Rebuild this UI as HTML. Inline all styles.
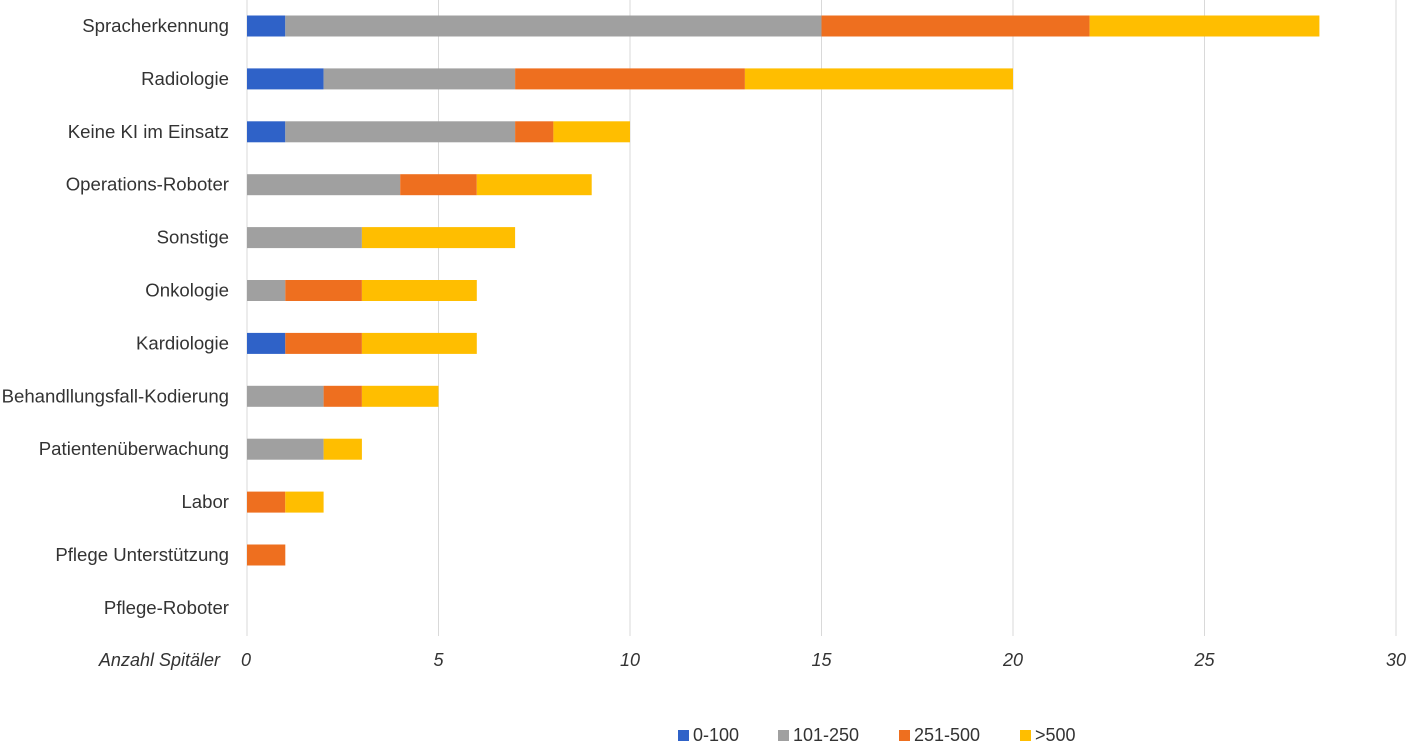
<!DOCTYPE html>
<html><head><meta charset="utf-8"><style>
body{margin:0;background:#fff;font-family:"Liberation Sans",sans-serif}
svg text{font-family:"Liberation Sans",sans-serif;fill:#333}
</style></head><body>
<svg id="chart" width="1406" height="741" xmlns="http://www.w3.org/2000/svg"></svg>
<script>
const categories=["Spracherkennung","Radiologie","Keine KI im Einsatz","Operations-Roboter","Sonstige","Onkologie","Kardiologie","Behandllungsfall-Kodierung","Patientenüberwachung","Labor","Pflege Unterstützung","Pflege-Roboter"];
const seriesNames=["0-100","101-250","251-500",">500"];
const s0=[1,2,1,0,0,0,1,0,0,0,0,0];
const s1=[14,5,6,4,3,1,0,2,2,0,0,0];
const s2=[7,6,1,2,0,2,2,1,0,1,1,0];
const s3=[6,7,2,3,4,3,3,2,1,1,0,0];
const ticks=[0,5,10,15,20,25,30];
const colors=["#2F62C8","#A0A0A0","#EE6F1F","#FFBE00"];
const svg=document.getElementById('chart');const NS="http://www.w3.org/2000/svg";
const x0=247,x1=1396,xmax=30;const X=v=>x0+(x1-x0)*v/xmax;
const Y=i=>26+i*52.9;const bh=21;
function el(t,a,txt){const e=document.createElementNS(NS,t);for(const k in a)e.setAttribute(k,a[k]);if(txt!==undefined)e.textContent=txt;svg.appendChild(e);return e;}
ticks.forEach(t=>{
 const g=el('line',{x1:X(t),x2:X(t),y1:0,y2:636,stroke:'#D9D9D9','stroke-width':1});
 
 
 const l=el('text',{x:X(t)-(t===0?6:0),y:666,'font-size':18,'font-style':'italic','text-anchor':t===0?'start':'middle'},t);
 
 
});
const at=el('text',{x:220,y:666,'font-size':18,'font-style':'italic','text-anchor':'end'},'Anzahl Spitäler');


const series=[s0,s1,s2,s3];
categories.forEach((c,i)=>{
 const t=el('text',{x:229,y:Y(i)+6,'font-size':18.6,'text-anchor':'end'},c);
 
 
 let acc=0;
 series.forEach((s,k)=>{
  if(s[i]>0){
   const r=el('rect',{x:X(acc),y:Y(i)-bh/2,width:X(acc+s[i])-X(acc),height:bh,fill:colors[k]});
   
   
  }
  acc+=s[i];
 });
});
const lx=[678,778,899,1020];
seriesNames.forEach((n,k)=>{
 const r=el('rect',{x:lx[k],y:730,width:11,height:11,fill:colors[k]});
 
 
 const t=el('text',{x:lx[k]+15,y:741,'font-size':18},n);
 
 
});
</script>
</body></html>
